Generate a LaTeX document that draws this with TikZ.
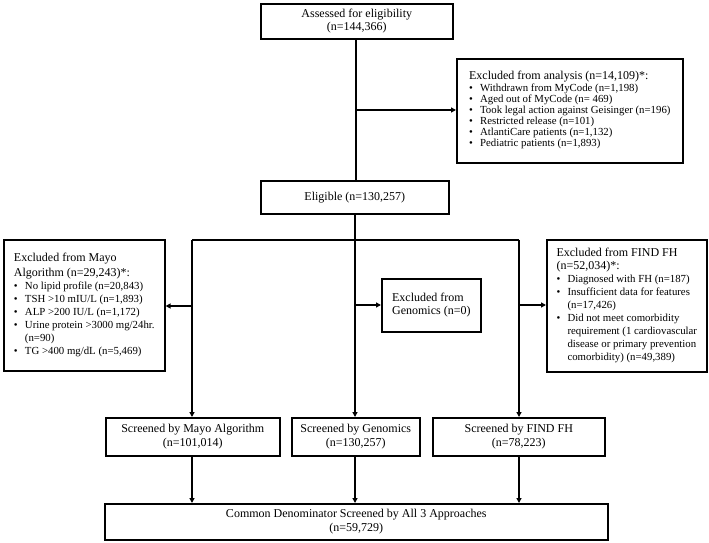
\documentclass[tikz,border=0pt]{standalone}
\usepackage{fontspec}
\setmainfont{Liberation Serif}
\usetikzlibrary{arrows.meta}
\newcommand\hd{\fontsize{12bp}{14.5bp}\selectfont}
\newcommand\sm{\fontsize{10.8bp}{13bp}\selectfont}
\newcommand\smt{\fontsize{10.8bp}{11bp}\selectfont}
\newcommand\hrow[1]{\multicolumn{2}{@{}l@{}}{\hd #1}}
\tikzset{
  box/.style={draw, line width=1.6pt, inner sep=0pt, align=center, anchor=north west, font=\hd},
  listbox/.style={draw, line width=1.6pt, inner sep=0pt, anchor=north west, font=\sm},
  conn/.style={line width=1.6pt, -{Triangle[length=5bp,width=5bp]}},
  line/.style={line width=1.6pt}
}
\begin{document}
\begin{tikzpicture}[x=1bp,y=-1bp]
\useasboundingbox (0,0) rectangle (709,543);
% main column
\node[box, minimum width=192bp, minimum height=35bp] (assess) at (260,3) {Assessed for eligibility\\[-1bp](n=144,366)};
\node[listbox, minimum width=226bp, minimum height=104bp, font=\smt] (exana) at (456,58) {\begin{tabular}{@{}p{11bp}@{}l@{}}
\hrow{Excluded from analysis (n=14,109)*:}\\[1bp]
•&Withdrawn from MyCode (n=1,198)\\
•&Aged out of MyCode (n= 469)\\
•&Took legal action against Geisinger (n=196)\\
•&Restricted release (n=101)\\
•&AtlantiCare patients (n=1,132)\\
•&Pediatric patients (n=1,893)
\end{tabular}};
\node[box, minimum width=188bp, minimum height=33bp] (elig) at (260,180) {Eligible (n=130,257)};
% exclusions
\node[listbox, minimum width=161bp, minimum height=131bp] (exmayo) at (3,239) {\begin{tabular}{@{}p{11bp}@{}l@{}}
\hrow{Excluded from Mayo}\\[2bp]
\hrow{Algorithm (n=29,243)*:}\\
•&No lipid profile (n=20,843)\\
•&TSH >10 mIU/L (n=1,893)\\
•&ALP >200 IU/L (n=1,172)\\
•&Urine protein >3000 mg/24hr.\\
&(n=90)\\
•&TG >400 mg/dL (n=5,469)
\end{tabular}};
\node[box, minimum width=99bp, minimum height=53bp, align=left] (exgen) at (381,278) {Excluded from\\[-1bp]Genomics (n=0)};
\node[listbox, minimum width=160bp, minimum height=132bp] (exfind) at (546,239) {\begin{tabular}{@{}p{11bp}@{}l@{}}
\hrow{Excluded from FIND FH}\\
\hrow{(n=52,034)*:}\\
•&Diagnosed with FH (n=187)\\
•&Insufficient data for features\\
&(n=17,426)\\
•&Did not meet comorbidity\\
&requirement (1 cardiovascular\\
&disease or primary prevention\\
&comorbidity) (n=49,389)
\end{tabular}};
% screened
\node[box, minimum width=174bp, minimum height=38bp] (scmayo) at (105,417) {Screened by Mayo Algorithm\\[-1bp](n=101,014)};
\node[box, minimum width=128bp, minimum height=38bp] (scgen) at (291,417) {Screened by Genomics\\[-1bp](n=130,257)};
\node[box, minimum width=172bp, minimum height=38bp] (scfind) at (432,417) {Screened by FIND FH\\[-1bp](n=78,223)};
\node[box, minimum width=503bp, minimum height=36bp] (common) at (104,503) {Common Denominator Screened by All 3 Approaches\\[-1bp](n=59,729)};
% coordinates
\coordinate (ta) at (356,110);
\coordinate (bl) at (192,240);
\coordinate (bm) at (355,240);
\coordinate (br) at (519,240);
\coordinate (al) at (192,306);
\coordinate (am) at (355,305);
\coordinate (ar) at (519,305);
% connectors
\draw[line] (assess.south -| ta) -- (elig.north -| ta);
\draw[conn] (ta) -- (ta -| exana.west);
\draw[line] (elig.south -| bm) -- (bm);
\draw[line] (bl) -- (br);
\draw[conn] (bm) -- (scgen.north -| bm);
\draw[conn] (bl) -- (scmayo.north -| bl);
\draw[conn] (br) -- (scfind.north -| br);
\draw[conn] (al) -- (al -| exmayo.east);
\draw[conn] (am) -- (am -| exgen.west);
\draw[conn] (ar) -- (ar -| exfind.west);
\draw[conn] (scmayo.south -| bl) -- (common.north -| bl);
\draw[conn] (scgen.south -| bm) -- (common.north -| bm);
\draw[conn] (scfind.south -| br) -- (common.north -| br);
\end{tikzpicture}
\end{document}
